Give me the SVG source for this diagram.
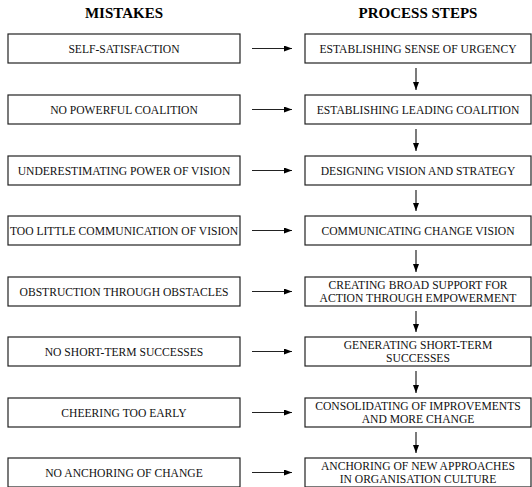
<svg xmlns="http://www.w3.org/2000/svg" width="532" height="487" viewBox="0 0 532 487">
<defs>
<marker id="ah" markerWidth="8" markerHeight="6" refX="8" refY="3" orient="auto" markerUnits="userSpaceOnUse">
<path d="M0,0 L8,3 L0,6 Z" fill="#000"/>
</marker>
</defs>
<style>
.box{fill:#fff;stroke:#222;stroke-width:1.2}
.t{font-family:'Liberation Serif','Times New Roman',serif;font-size:11.6px;fill:#111;text-anchor:middle}
.h{font-family:'Liberation Serif','Times New Roman',serif;font-size:15px;font-weight:bold;fill:#000;text-anchor:middle}
.c{stroke:#222;stroke-width:1.2;fill:none;marker-end:url(#ah)}
</style>
<rect width="532" height="487" fill="#fff"/>
<text class="h" x="124" y="18">MISTAKES</text>
<text class="h" x="418" y="18">PROCESS STEPS</text>

<g id="m1"><rect class="box" x="8" y="34" width="232" height="29"/><text class="t" x="124" y="52.8">SELF-SATISFACTION</text></g>
<g id="m2"><rect class="box" x="8" y="95" width="232" height="29"/><text class="t" x="124" y="113.8">NO POWERFUL COALITION</text></g>
<g id="m3"><rect class="box" x="8" y="156" width="232" height="29"/><text class="t" x="124" y="174.8">UNDERESTIMATING POWER OF VISION</text></g>
<g id="m4"><rect class="box" x="8" y="216" width="232" height="29"/><text class="t" x="124" y="234.8">TOO LITTLE COMMUNICATION OF VISION</text></g>
<g id="m5"><rect class="box" x="8" y="277" width="232" height="29"/><text class="t" x="124" y="295.8">OBSTRUCTION THROUGH OBSTACLES</text></g>
<g id="m6"><rect class="box" x="8" y="337" width="232" height="29"/><text class="t" x="124" y="355.8">NO SHORT-TERM SUCCESSES</text></g>
<g id="m7"><rect class="box" x="8" y="398" width="232" height="29"/><text class="t" x="124" y="416.8">CHEERING TOO EARLY</text></g>
<g id="m8"><rect class="box" x="8" y="458" width="232" height="29"/><text class="t" x="124" y="476.8">NO ANCHORING OF CHANGE</text></g>

<g id="p1"><rect class="box" x="305" y="34" width="226" height="29"/><text class="t" x="418" y="52.8">ESTABLISHING SENSE OF URGENCY</text></g>
<g id="p2"><rect class="box" x="305" y="95" width="226" height="29"/><text class="t" x="418" y="113.8">ESTABLISHING LEADING COALITION</text></g>
<g id="p3"><rect class="box" x="305" y="156" width="226" height="29"/><text class="t" x="418" y="174.8">DESIGNING VISION AND STRATEGY</text></g>
<g id="p4"><rect class="box" x="305" y="216" width="226" height="29"/><text class="t" x="418" y="234.8">COMMUNICATING CHANGE VISION</text></g>
<g id="p5"><rect class="box" x="305" y="277" width="226" height="29"/><text class="t" x="418" y="289">CREATING BROAD SUPPORT FOR</text><text class="t" x="418" y="302">ACTION THROUGH EMPOWERMENT</text></g>
<g id="p6"><rect class="box" x="305" y="337" width="226" height="29"/><text class="t" x="418" y="349">GENERATING SHORT-TERM</text><text class="t" x="418" y="362">SUCCESSES</text></g>
<g id="p7"><rect class="box" x="305" y="398" width="226" height="29"/><text class="t" x="418" y="410">CONSOLIDATING OF IMPROVEMENTS</text><text class="t" x="418" y="423">AND MORE CHANGE</text></g>
<g id="p8"><rect class="box" x="305" y="458" width="226" height="29"/><text class="t" x="418" y="470">ANCHORING OF NEW APPROACHES</text><text class="t" x="418" y="483">IN ORGANISATION CULTURE</text></g>

<g id="connectors">
<path class="c" d="M252,48.5 H292"/>
<path class="c" d="M252,109.5 H292"/>
<path class="c" d="M252,170.5 H292"/>
<path class="c" d="M252,230.5 H292"/>
<path class="c" d="M252,291.5 H292"/>
<path class="c" d="M252,351.5 H292"/>
<path class="c" d="M252,412.5 H292"/>
<path class="c" d="M252,472.5 H292"/>
<path class="c" d="M416,68 V90"/>
<path class="c" d="M416,129 V151"/>
<path class="c" d="M416,190 V211"/>
<path class="c" d="M416,250 V272"/>
<path class="c" d="M416,311 V332"/>
<path class="c" d="M416,371 V393"/>
<path class="c" d="M416,432 V453"/>
</g>
</svg>
